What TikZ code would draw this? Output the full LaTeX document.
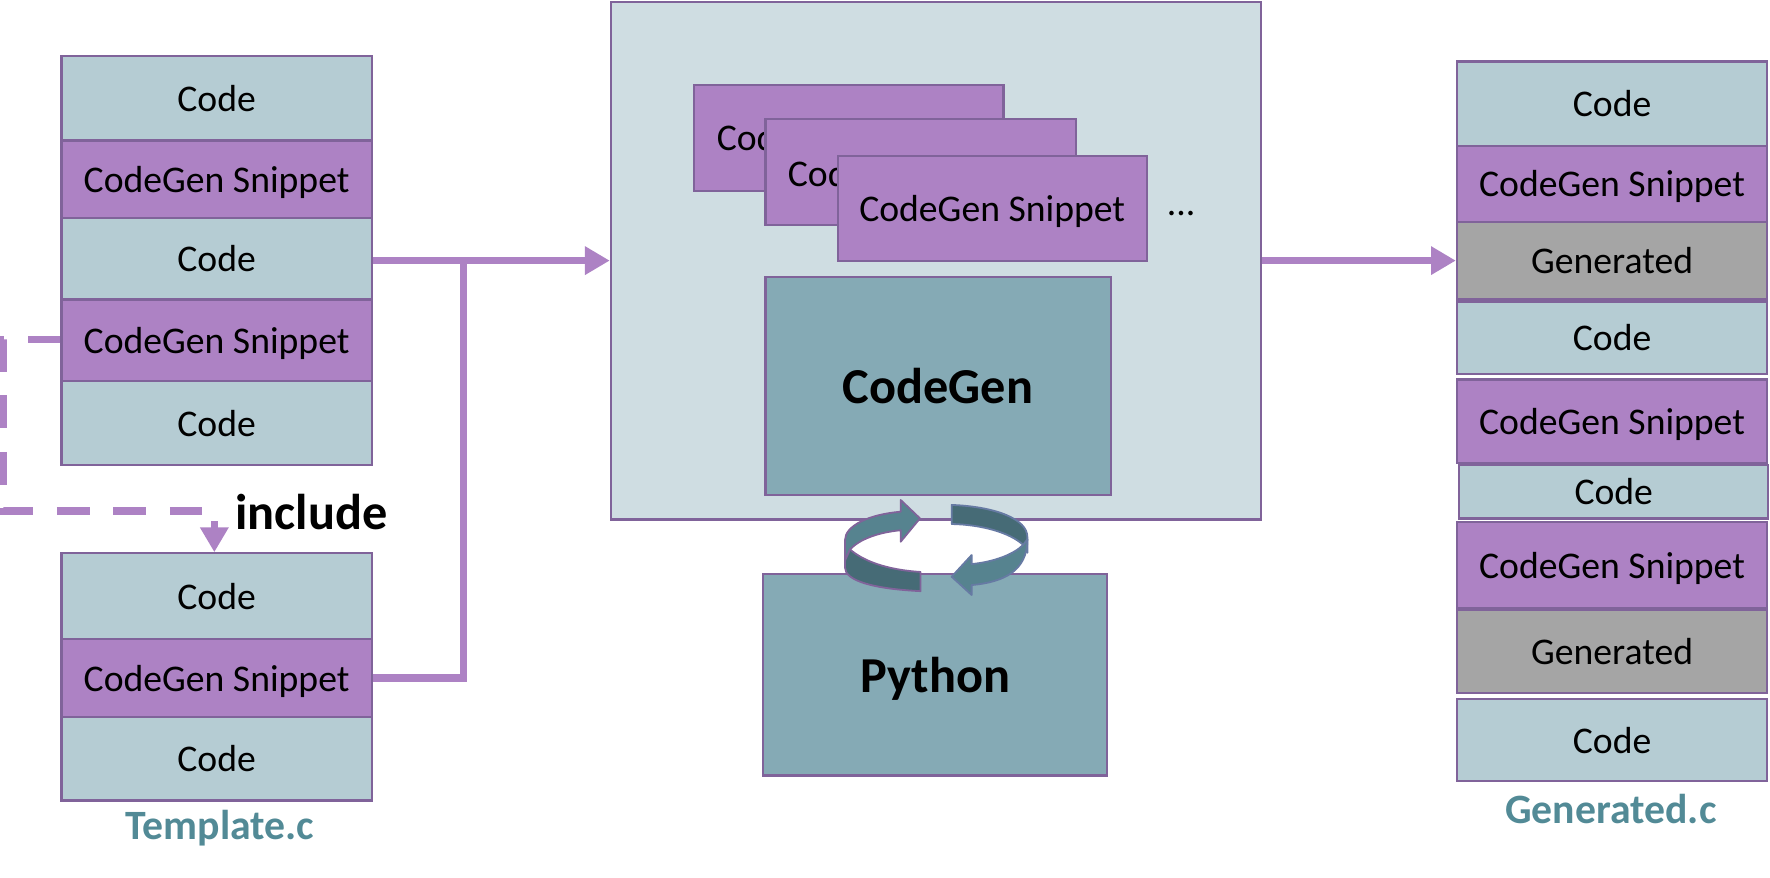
\documentclass[tikz,border=0pt]{standalone}
\usepackage{fontspec}
\setmainfont{Carlito}
\usetikzlibrary{arrows.meta,calc}
\definecolor{codec}{HTML}{B5CCD3}
\definecolor{snip}{HTML}{AD82C4}
\definecolor{gen}{HTML}{A5A5A5}
\definecolor{bigc}{HTML}{CFDDE2}
\definecolor{dark}{HTML}{85AAB5}
\definecolor{edge}{HTML}{80639A}
\definecolor{edgeb}{HTML}{667AA3}
\definecolor{ring}{HTML}{56838F}
\definecolor{ringd}{HTML}{466B76}
\definecolor{teal}{HTML}{528A96}
\tikzset{
 x=0.5pt,y=-0.5pt,
 cellbox/.style={draw=edge,line width=1pt,inner sep=0pt,text=black,text depth=0pt,font=\fontsize{16.7}{20}\selectfont},
 codebox/.style={cellbox,fill=codec},
 snipbox/.style={cellbox,fill=snip},
 genbox/.style={cellbox,fill=gen},
 bigbox/.style={cellbox,fill=bigc},
 darkbox/.style={cellbox,fill=dark,font=\fontsize{22.3}{26}\selectfont\bfseries},
 link/.style={draw=snip,line width=3.2pt},
 linkarrow/.style={link,-{Triangle[length=11pt,width=12pt]}},
 caption/.style={text=teal,font=\fontsize{18.5}{22}\selectfont\bfseries,inner sep=0pt},
 ringl/.style={fill=ring,draw=edge,line width=0.8pt,line join=round},
 ringld/.style={fill=ringd,draw=edge,line width=0.8pt,line join=round},
 ringr/.style={fill=ring,draw=edgeb,line width=0.8pt,line join=round},
 ringrd/.style={fill=ringd,draw=edgeb,line width=0.8pt,line join=round},
}
% \cell{name}{style}{x1}{y1}{x2}{y2}{text}
\newcommand{\cell}[7]{%
 \pgfmathsetmacro{\cw}{(#5-#3)*0.5}\pgfmathsetmacro{\ch}{(#6-#4)*0.5}%
 \node[#2,minimum width=\cw pt,minimum height=\ch pt,anchor=north west] (#1) at (#3-0.5,#4-0.5) {#7};}
\begin{document}
\begin{tikzpicture}
\useasboundingbox (0,0) rectangle (1569,778);
% left stack
\cell{a1}{codebox}{54}{49}{329}{124}{Code}
\cell{a2}{snipbox}{54}{124}{329}{193}{CodeGen Snippet}
\cell{a3}{codebox}{54}{193}{329}{265}{Code}
\cell{a4}{snipbox}{54}{265}{329}{337}{CodeGen Snippet}
\cell{a5}{codebox}{54}{337}{329}{412}{Code}
\cell{b1}{codebox}{54}{490}{329}{566}{Code}
\cell{b2}{snipbox}{54}{566}{329}{635}{CodeGen Snippet}
\cell{b3}{codebox}{54}{635}{329}{709}{Code}
\node[caption] (tc) at (195,734) {Template.c};
\node[inner sep=0pt,font=\fontsize{22.3}{26}\selectfont\bfseries] (inc) at (276,454) {include};
% centre
\cell{big}{bigbox}{541}{1}{1117}{460}{}
\cell{s1}{snipbox}{615}{75}{889}{169}{}
\node[anchor=west,inner sep=0pt,font=\fontsize{16.7}{20}\selectfont] (s1t) at (635,122) {Cod};
\cell{s2}{snipbox}{678}{105}{953}{199}{}
\node[anchor=west,inner sep=0pt,font=\fontsize{16.7}{20}\selectfont] (s2t) at (698,154) {Cod};
\cell{s3}{snipbox}{742}{138}{1016}{231}{CodeGen Snippet}
\node[inner sep=0pt,font=\fontsize{16.7}{20}\selectfont] (dots) at (1047,189) {...};
\cell{cg}{darkbox}{678}{245}{984}{438}{CodeGen}
\cell{py}{darkbox}{676}{508}{981}{687}{Python}
% right stack
\cell{r1}{codebox}{1291}{54}{1566}{129}{Code}
\cell{r2}{snipbox}{1291}{129}{1566}{196}{CodeGen Snippet}
\cell{r3}{genbox}{1291}{196}{1566}{265}{Generated}
\cell{r4}{codebox}{1291}{267}{1566}{331}{Code}
\cell{r5}{snipbox}{1291}{336}{1566}{410}{CodeGen Snippet}
\cell{r6}{codebox}{1293}{412}{1567}{459}{Code}
\cell{r7}{snipbox}{1291}{462}{1566}{539}{CodeGen Snippet}
\cell{r8}{genbox}{1291}{540}{1566}{614}{Generated}
\cell{r9}{codebox}{1291}{619}{1566}{692}{Code}
\node[caption] (gc) at (1428,717) {Generated.c};
% connectors
\coordinate (jn) at (411,231);
\draw[linkarrow] (a3.east |- jn) -- (big.west |- jn);
\draw[link] (b2.east) -| (jn);
\coordinate (r3w) at (r3.west);
\draw[linkarrow] (big.east |- r3w) -- (r3w);
\coordinate (dl) at (3,301);
\coordinate (dd) at (3,453);
\coordinate (dr) at (190,453);
\draw[link,dash pattern=on 14.5pt off 10.5pt] (a4.west |- dl) -- (dl) -- (dd) -- (dr);
\coordinate (as) at (190,462);
\draw[linkarrow] (as) -- (b1.north -| as);
% circular arrows
\path[ringld] (753.5,487) .. controls (765,497) and (785,505) .. (816,507) -- (816,524) .. controls (775,522) and (749,515) .. (749,503) -- (749,479) -- cycle;
\path[ringl] (749,479) .. controls (749,466) and (770,456) .. (798.4,453.6) -- (798.4,443.2) -- (815.5,459.5) -- (798.4,480.2) -- (798.4,470) .. controls (778,472) and (762,478) .. (753.5,487) -- (749,497) -- cycle;
\path[ringrd] (843.6,447.6) .. controls (882,449) and (910.7,460) .. (910.7,476) -- (910.7,490) -- (907,483) .. controls (895,472) and (870,465) .. (843.6,464.5) -- cycle;
\path[ringr] (907,483) .. controls (899,491) and (882,498) .. (861.3,500) -- (861.3,492) -- (843.6,511.2) -- (861.3,527.4) -- (861.3,518.6) .. controls (890,516) and (910.7,506) .. (910.7,478) -- cycle;
\end{tikzpicture}
\end{document}
